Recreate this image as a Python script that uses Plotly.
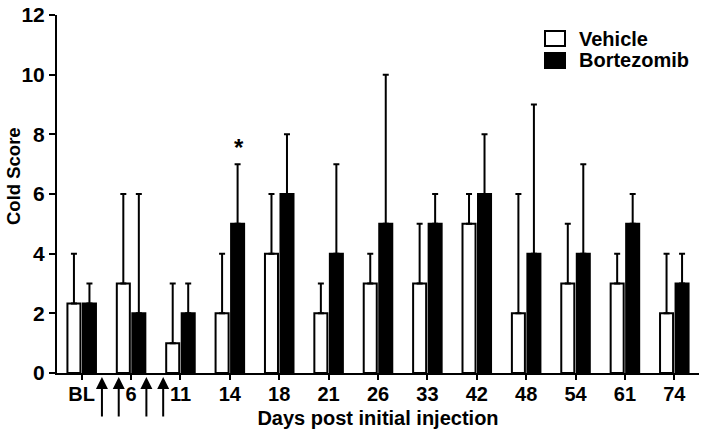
import plotly.graph_objects as go

categories = ["BL", "6", "11", "14", "18", "21", "26", "33", "42", "48", "54", "61", "74"]
vehicle_mean = [2.33, 3, 1, 2, 4, 2, 3, 3, 5, 2, 3, 3, 2]
vehicle_err = [1.67, 3, 2, 2, 2, 1, 1, 2, 1, 4, 2, 1, 2]
bort_mean = [2.33, 2, 2, 5, 6, 4, 5, 5, 6, 4, 4, 5, 3]
bort_err = [0.67, 4, 1, 2, 2, 3, 5, 1, 2, 5, 3, 1, 1]
y_ticks = [0, 2, 4, 6, 8, 10, 12]
injection_positions = [0.41, 0.75, 1.31, 1.65]  # category-index positions of the injection arrows

FONT = "Liberation Sans"
W, H = 709, 436
L, R, T, B = 57, 10, 15, 63
PW, PH = W - L - R, H - T - B


def px_x(px):
    return (px - L) / PW


def px_y(py):
    return (H - B - py) / PH


zeros = [0] * len(categories)

fig = go.Figure()
fig.add_trace(go.Bar(
    x=categories, y=vehicle_mean, name="Vehicle",
    marker=dict(color="white", line=dict(color="black", width=2)),
    error_y=dict(type="data", array=vehicle_err, arrayminus=zeros, symmetric=False,
                 color="black", thickness=2, width=3),
))
fig.add_trace(go.Bar(
    x=categories, y=bort_mean, name="Bortezomib",
    marker=dict(color="black", line=dict(color="black", width=2)),
    error_y=dict(type="data", array=bort_err, arrayminus=zeros, symmetric=False,
                 color="black", thickness=2, width=3),
))

bold = dict(family=FONT, color="black", weight="bold")
annotations = []
for xp in injection_positions:
    annotations.append(dict(x=xp, y=px_y(377), xref="x", yref="paper", text="", showarrow=True,
                            ax=0, ay=41, arrowhead=2, arrowsize=1.2, arrowwidth=2,
                            arrowcolor="black"))
# significance marker
annotations.append(dict(x=3.18, y=7.55, xref="x", yref="y", text="*", showarrow=False,
                        font=dict(size=24, **bold)))
# y-axis title
annotations.append(dict(x=px_x(13), y=px_y(176), xref="paper", yref="paper", text="Cold Score",
                        showarrow=False, textangle=-90, xanchor="center", yanchor="middle",
                        font=dict(size=18.5, **bold)))
# legend text
annotations.append(dict(x=px_x(577), y=px_y(39), xref="paper", yref="paper", text="Vehicle",
                        showarrow=False, xanchor="left", yanchor="middle", font=dict(size=20, **bold)))
annotations.append(dict(x=px_x(577), y=px_y(60), xref="paper", yref="paper", text="Bortezomib",
                        showarrow=False, xanchor="left", yanchor="middle", font=dict(size=20, **bold)))

shapes = [
    dict(type="rect", xref="paper", yref="paper", x0=px_x(545), x1=px_x(565), y0=px_y(46), y1=px_y(31),
         fillcolor="white", line=dict(color="black", width=2)),
    dict(type="rect", xref="paper", yref="paper", x0=px_x(545), x1=px_x(565), y0=px_y(68), y1=px_y(53),
         fillcolor="black", line=dict(color="black", width=2)),
]

fig.update_layout(
    width=W, height=H,
    margin=dict(l=L, r=R, t=T, b=B),
    paper_bgcolor="white", plot_bgcolor="white",
    barmode="group", bargap=0.372, bargroupgap=0.16,
    showlegend=False,
    annotations=annotations,
    shapes=shapes,
    font=dict(family=FONT, color="black"),
)

fig.update_xaxes(
    range=[-0.5, 12.5], showline=True, linecolor="black", linewidth=2, automargin=False,
    ticks="outside", ticklen=5, tickwidth=2, tickcolor="black", showgrid=False,
    tickfont=dict(size=20, **bold), ticklabelstandoff=-3,
    title=dict(text="Days post initial injection", standoff=7, font=dict(size=20, **bold)),
)
fig.update_yaxes(
    range=[0, 12], tickvals=y_ticks, showline=True, linecolor="black", linewidth=2, automargin=False,
    ticks="outside", ticklen=6, tickwidth=2, tickcolor="black", showgrid=False,
    zeroline=False,
    tickfont=dict(size=21, **bold),
)

fig.write_html("out.html", config={"displayModeBar": False},
               post_script="document.body.style.margin='0px';")
